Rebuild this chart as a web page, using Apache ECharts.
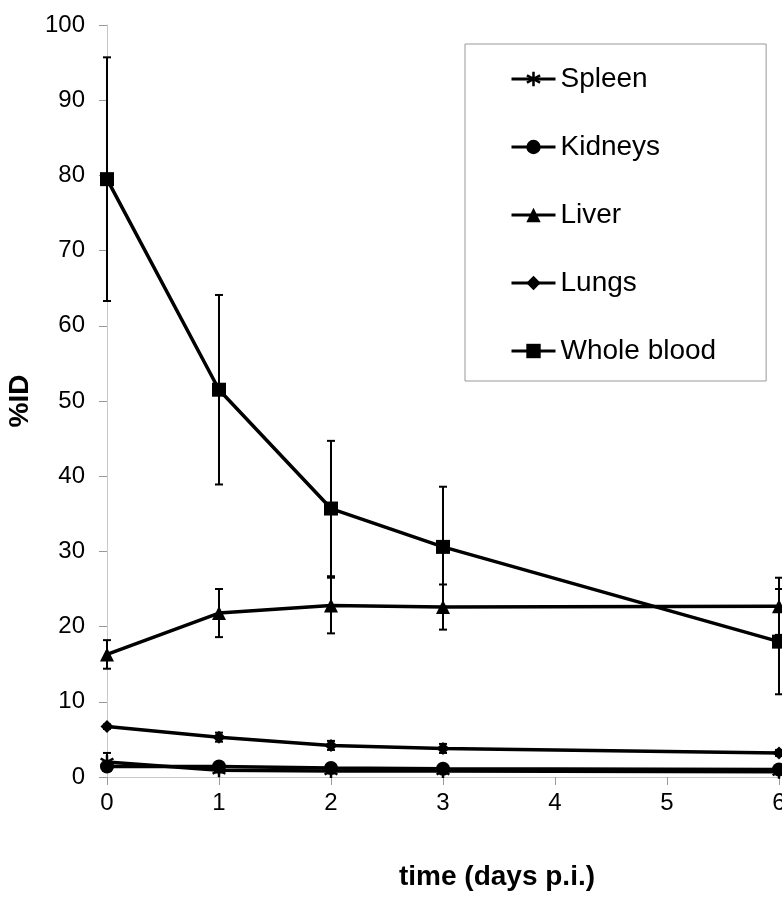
<!DOCTYPE html>
<html>
<head>
<meta charset="utf-8">
<script src="https://cdn.jsdelivr.net/npm/echarts@6/dist/echarts.min.js"></script>
<style>
html, body { margin: 0; padding: 0; background: #fff; }
#chart { width: 782px; height: 898px; }
</style>
</head>
<body>
<div id="chart"></div>
<script>
// days p.i.
var days = [0, 1, 2, 3, 6];
var seriesNames = ['Spleen', 'Kidneys', 'Liver', 'Lungs', 'Whole blood'];

// %ID means and error (+/-)
var spleen = [2.0, 0.9, 0.8, 0.8, 0.7];
var spleenErr = [1.2, 0.3, 0.3, 0.3, 0.3];
var kidneys = [1.4, 1.4, 1.2, 1.1, 1.0];
var kidneysErr = [0.3, 0.3, 0.3, 0.3, 0.3];
var liver = [16.3, 21.8, 22.8, 22.6, 22.7];
var liverErr = [1.9, 3.2, 3.7, 3.0, 3.8];
var lungs = [6.7, 5.3, 4.2, 3.8, 3.2];
var lungsErr = [0.3, 0.6, 0.6, 0.6, 0.4];
var blood = [79.5, 51.5, 35.7, 30.6, 18.0];
var bloodErr = [16.2, 12.6, 9.0, 8.0, 7.0];

var asterisk = 'path://M-1,-6L1,-6L1,6L-1,6Z' +
	'M-5.696,-2.134L-4.696,-3.866L5.696,2.134L4.696,3.866Z' +
	'M-4.696,3.866L-5.696,2.134L4.696,-3.866L5.696,-2.134Z';

function pts(vals) {
	var out = [];
	for (var i = 0; i < days.length; i++) {
		out.push([days[i], vals[i]]);
	}
	return out;
}
function errPts(vals, err) {
	var out = [];
	for (var i = 0; i < days.length; i++) {
		out.push([days[i], vals[i] - err[i], vals[i] + err[i]]);
	}
	return out;
}
function renderErr(params, api) {
	var p1 = api.coord([api.value(0), api.value(1)]);
	var p2 = api.coord([api.value(0), api.value(2)]);
	var cap = 4;
	var st = { stroke: '#000', lineWidth: 2 };
	return {
		type: 'group',
		children: [
			{ type: 'line', shape: { x1: p1[0], y1: p1[1], x2: p2[0], y2: p2[1] }, style: st },
			{ type: 'line', shape: { x1: p1[0] - cap, y1: p1[1], x2: p1[0] + cap, y2: p1[1] }, style: st },
			{ type: 'line', shape: { x1: p2[0] - cap, y1: p2[1], x2: p2[0] + cap, y2: p2[1] }, style: st }
		]
	};
}
function lineSeries(name, vals, symbol, size) {
	return {
		name: name,
		type: 'line',
		data: pts(vals),
		symbol: symbol,
		symbolSize: size,
		z: 3,
		lineStyle: { color: '#000', width: 3.5 },
		itemStyle: { color: '#000' },
		emphasis: { disabled: true }
	};
}
function errSeries(vals, err) {
	return {
		type: 'custom',
		data: errPts(vals, err),
		renderItem: renderErr,
		z: 2,
		silent: true
	};
}

var chart = echarts.init(document.getElementById('chart'));
var option = {
	animation: false,
	backgroundColor: '#fff',
	textStyle: { fontFamily: 'Liberation Sans, Arial, sans-serif', color: '#000' },
	grid: { left: 107, right: 3, top: 25, bottom: 121, outerBoundsMode: 'none', containLabel: false },
	legend: {
		data: seriesNames,
		orient: 'vertical',
		left: 465,
		top: 44,
		padding: [20, 50, 15, 45],
		itemWidth: 44,
		itemHeight: 18,
		itemGap: 38,
		borderColor: '#999',
		borderWidth: 1,
		backgroundColor: '#fff',
		lineStyle: { width: 3, color: '#000' },
		textStyle: { fontSize: 28, lineHeight: 30, color: '#000', fontFamily: 'Liberation Sans, Arial, sans-serif' }
	},
	xAxis: {
		type: 'value',
		min: 0,
		max: 6,
		interval: 1,
		name: 'time (days p.i.)',
		nameLocation: 'middle',
		nameGap: 86,
		nameTextStyle: { fontSize: 28, fontWeight: 'bold', color: '#000', padding: [0, 0, 0, 108] },
		axisLine: { show: true, lineStyle: { color: '#c8c8c8', width: 1 } },
		axisTick: { show: true, length: 8, lineStyle: { color: '#999' } },
		axisLabel: { fontSize: 24, color: '#000', margin: 14 },
		splitLine: { show: false }
	},
	yAxis: {
		type: 'value',
		min: 0,
		max: 100,
		interval: 10,
		name: '%ID',
		nameLocation: 'middle',
		nameRotate: 90,
		nameGap: 68,
		nameTextStyle: { fontSize: 28, fontWeight: 'bold', color: '#000' },
		axisLine: { show: true, lineStyle: { color: '#c8c8c8', width: 1 } },
		axisTick: { show: true, length: 8, lineStyle: { color: '#999' } },
		axisLabel: { fontSize: 24, color: '#000', margin: 22 },
		splitLine: { show: false }
	},
	series: [
		errSeries(spleen, spleenErr),
		errSeries(kidneys, kidneysErr),
		errSeries(liver, liverErr),
		errSeries(lungs, lungsErr),
		errSeries(blood, bloodErr),
		lineSeries('Spleen', spleen, asterisk, 14),
		lineSeries('Kidneys', kidneys, 'circle', 14),
		lineSeries('Liver', liver, 'triangle', 14),
		lineSeries('Lungs', lungs, 'diamond', 13),
		lineSeries('Whole blood', blood, 'rect', 14)
	]
};
chart.setOption(option);
window.onresize = chart.resize;
</script>
</body>
</html>
